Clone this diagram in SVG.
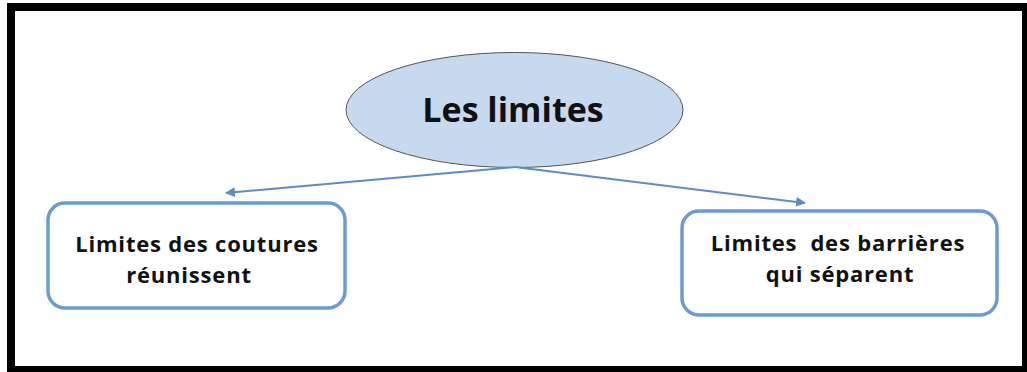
<svg xmlns="http://www.w3.org/2000/svg" width="1027" height="372" viewBox="0 0 1027 372">
<style>
.lbl{font-family:"Open Sans","Liberation Sans",sans-serif;font-weight:bold;fill:#111;text-anchor:middle}
.sm{font-size:22px;letter-spacing:0.8px}
.box{fill:#fff;stroke:#6b9bd1;stroke-width:3.5}
.conn{stroke:#5b8cc6;stroke-width:2;fill:none}
</style>
<defs>
<marker id="ah" viewBox="0 0 10 10" refX="9" refY="5" markerWidth="5" markerHeight="5" orient="auto-start-reverse" markerUnits="strokeWidth">
<path d="M0,0 L10,5 L0,10 z" fill="#5b8cc6"/>
</marker>
</defs>
<rect x="0" y="0" width="1027" height="372" fill="#fff"/>
<path d="M7,3 H1027 V372 H7 Z M15,11 V366 H1022 V11 Z" fill="#000" fill-rule="evenodd"/>
<g id="root">
<ellipse cx="514.5" cy="110" rx="168.5" ry="57.5" fill="#c6d9ef" stroke="#555" stroke-width="1"/>
<text class="lbl" x="513" y="122" font-size="34">Les limites</text>
</g>
<g id="left">
<rect class="box" x="48" y="203" width="297" height="105" rx="17"/>
<text class="lbl sm" x="197" y="252">Limites des coutures</text>
<text class="lbl sm" x="189" y="283">réunissent</text>
</g>
<g id="right">
<rect class="box" x="682" y="211" width="315" height="104" rx="17"/>
<text class="lbl sm" x="838" y="251" xml:space="preserve">Limites  des barrières</text>
<text class="lbl sm" x="840" y="282">qui séparent</text>
</g>
<g id="connectors">
<line class="conn" x1="515" y1="167" x2="226" y2="193" marker-end="url(#ah)"/>
<line class="conn" x1="515" y1="167" x2="805" y2="203" marker-end="url(#ah)"/>
</g>
</svg>
